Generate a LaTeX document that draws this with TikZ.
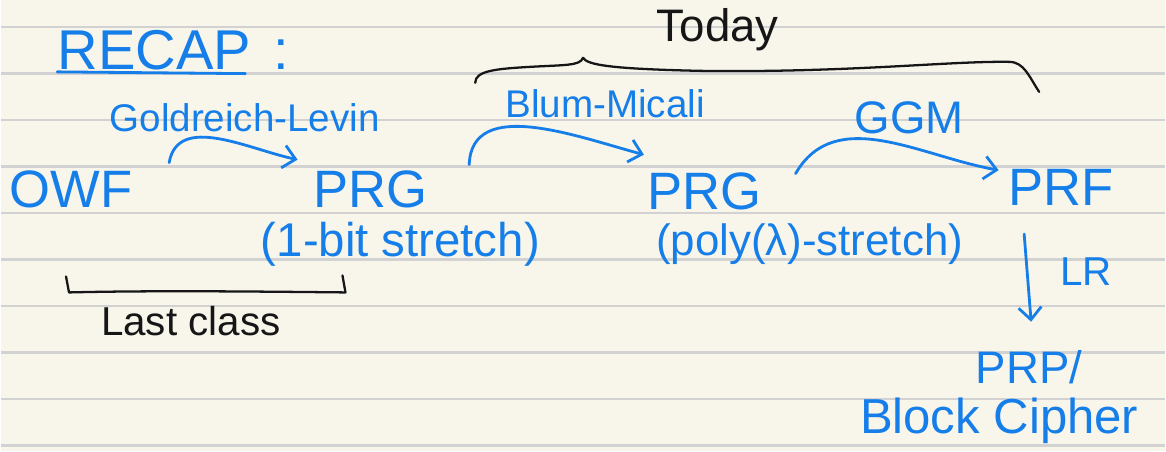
\documentclass[tikz,border=0pt]{standalone}
\usepackage{fontspec}
\setmainfont{Liberation Sans}
\usetikzlibrary{arrows.meta}

\definecolor{inkblue}{RGB}{22,126,232}
\definecolor{inkblack}{RGB}{22,22,22}
\definecolor{paper}{RGB}{248,246,235}
\definecolor{ruleline}{RGB}{210,210,210}

\begin{document}
\begin{tikzpicture}[x=1cm, y=1cm,
  blueink/.style={text=inkblue, inner sep=2pt},
  blackink/.style={text=inkblack, inner sep=2pt},
  big/.style={font=\fontsize{30}{32}\selectfont},
  mid/.style={font=\fontsize{22}{24}\selectfont},
  pen/.style={draw=inkblue, line width=1.6pt, line cap=round, line join=round},
  pencil/.style={draw=inkblack, line width=1.3pt, line cap=round, line join=round},
  tip/.style={-{Straight Barb[length=7pt,width=13pt,line width=1.6pt]}}]

% paper with ruled lines
\fill[paper] (0,0) rectangle (23.32,9.04);
\foreach \k in {0,...,9}
  \draw[ruleline, line width=1.3pt] (0,{8.5-0.932*\k}) -- (23.32,{8.5-0.932*\k});
\useasboundingbox (0,0) rectangle (23.32,9.04);

% title
\node[blueink, font=\fontsize{32}{34}\selectfont] (recap) at (3.45,8.04) {RECAP\hspace{0.4em}:};
\draw[pen] ([xshift=2pt, yshift=1pt]recap.south west) -- ([xshift=-0.95cm]recap.south east);

% the chain
\node[blueink, big] (owf) at (1.4,5.24) {OWF};
\node[blueink, big] (prg1) at (7.4,5.24) {PRG};
\node[blueink, big] (prg2) at (14.1,5.2) {PRG};
\node[blueink, big] (prf) at (21.24,5.28) {PRF};
\node[blueink, font=\fontsize{26}{28}\selectfont] (prp) at (20.6,1.68) {PRP/};
\node[blueink, font=\fontsize{28}{30}\selectfont] (cipher) at (20.0,0.6) {Block Cipher};

% notes under the PRGs
\node[blueink, font=\fontsize{27}{29}\selectfont] (onebit) at (8.0,4.14) {(1-bit stretch)};
\node[blueink, font=\fontsize{25}{27}\selectfont] (polystretch) at (16.2,4.14) {(poly(λ)-stretch)};

% arrow labels
\node[blueink, mid] (gl) at (4.88,6.68) {Goldreich-Levin};
\node[blueink, mid] (bm) at (12.1,6.96) {Blum-Micali};
\node[blueink, font=\fontsize{26}{28}\selectfont] (ggm) at (18.2,6.68) {GGM};
\node[blueink, font=\fontsize{23}{25}\selectfont] (lr) at (21.74,3.6) {LR};

% arrows
\draw[pen, tip] ([shift={(0.66,0.09)}]owf.north east) to[out=80, in=168] ([shift={(-0.24,0.15)}]prg1.north west);
\draw[pen, tip] ([shift={(0.76,0.05)}]prg1.north east) to[out=88, in=165] ([shift={(0,0.29)}]prg2.north west);
\draw[pen, tip] ([shift={(0.6,-0.09)}]prg2.north east) to[out=60, in=170] ([shift={(-0.12,-0.09)}]prf.north west);
\draw[pen, tip] ([shift={(-0.74,-0.49)}]prf.south) -- ([shift={(0.04,0.5)}]prp.north);

% last class / today
\node[blackink, font=\fontsize{23}{25}\selectfont] (last) at (3.8,2.6) {Last class};
\draw[pencil] (1.3,3.5) -- (1.36,3.18) .. controls (3,3.22) and (5,3.2) .. (6.9,3.18) -- (6.84,3.52);

\node[blackink, font=\fontsize{26}{28}\selectfont] (today) at (14.36,8.44) {Today};
\draw[pencil] (9.5,7.38) .. controls (9.5,7.62) and (9.9,7.66) .. (10.6,7.7)
  .. controls (11.3,7.74) and (11.6,7.72) .. (11.66,7.88)
  .. controls (11.75,7.74) and (12.2,7.66) .. (14,7.62)
  .. controls (17,7.58) and (19,7.82) .. (20.2,7.8)
  .. controls (20.5,7.8) and (20.6,7.5) .. (20.8,7.2);

\end{tikzpicture}
\end{document}
